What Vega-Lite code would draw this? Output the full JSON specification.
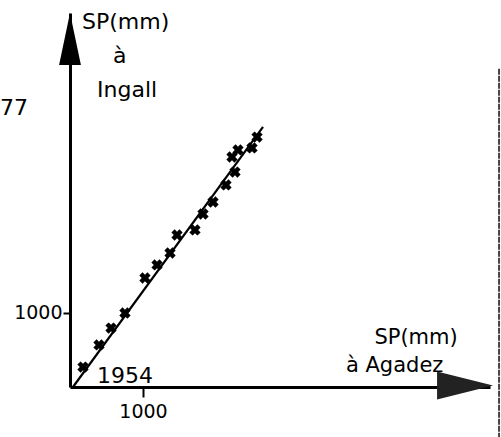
{
  "$schema": "https://vega.github.io/schema/vega-lite/v6.json",
  "width": 420,
  "height": 374,
  "autosize": {"type": "none"},
  "padding": {"left": 70, "top": 13, "right": 11, "bottom": 50},
  "background": "white",
  "config": {
    "view": {"stroke": null},
    "axis": {"grid": false, "domainColor": "black", "domainWidth": 3, "tickColor": "black", "tickWidth": 2, "labelColor": "black", "labelFont": "DejaVu Sans", "labelFontSize": 19, "title": null}
  },
  "datasets": {
    "pts": [
      {"agadez": 178, "ingall": 270},
      {"agadez": 397, "ingall": 568},
      {"agadez": 562, "ingall": 797},
      {"agadez": 753, "ingall": 1000},
      {"agadez": 1027, "ingall": 1473},
      {"agadez": 1192, "ingall": 1649},
      {"agadez": 1370, "ingall": 1811},
      {"agadez": 1466, "ingall": 2054},
      {"agadez": 1712, "ingall": 2122},
      {"agadez": 1822, "ingall": 2338},
      {"agadez": 1959, "ingall": 2500},
      {"agadez": 2137, "ingall": 2730},
      {"agadez": 2260, "ingall": 2905},
      {"agadez": 2219, "ingall": 3108},
      {"agadez": 2301, "ingall": 3203},
      {"agadez": 2493, "ingall": 3230},
      {"agadez": 2562, "ingall": 3378}
    ],
    "fit": [
      {"agadez": 41, "ingall": 0},
      {"agadez": 2644, "ingall": 3514}
    ],
    "edge": [
      {"agadez": 5877, "ingall": 4300, "ingall2": -676}
    ],
    "labels": [
      {"agadez": 164, "ingall": 4932, "t": "SP(mm)"},
      {"agadez": 589, "ingall": 4473, "t": "à"},
      {"agadez": 370, "ingall": 4014, "t": "Ingall"},
      {"agadez": -959, "ingall": 3770, "t": "77"},
      {"agadez": 370, "ingall": 149, "t": "1954"}
    ],
    "xlabels": [
      {"agadez": 4170, "ingall": 663, "t": "SP(mm)"},
      {"agadez": 3780, "ingall": 284, "t": "à Agadez"}
    ]
  },
  "layer": [
    {
      "data": {"name": "fit"},
      "mark": {"type": "line", "color": "black", "strokeWidth": 2.2},
      "encoding": {
        "x": {"field": "agadez", "type": "quantitative", "scale": {"domain": [0, 5753], "nice": false, "zero": false},
              "axis": {"values": [1000], "format": "d", "tickSize": 10, "labelDx": 13, "labelPadding": 5}},
        "y": {"field": "ingall", "type": "quantitative", "scale": {"domain": [0, 5054], "nice": false, "zero": false},
              "axis": {"values": [1000], "format": "d", "tickSize": 7, "labelPadding": 1, "labelDy": -8}}
      }
    },
    {
      "data": {"name": "edge"},
      "mark": {"type": "rule", "color": "#444", "strokeWidth": 2, "strokeDash": [6, 1]},
      "encoding": {
        "x": {"field": "agadez", "type": "quantitative"},
        "y": {"field": "ingall", "type": "quantitative"},
        "y2": {"field": "ingall2"}
      }
    },
    {
      "data": {"name": "pts"},
      "mark": {"type": "point", "shape": "cross", "angle": 45, "filled": true, "color": "black", "size": 130, "opacity": 1},
      "encoding": {
        "x": {"field": "agadez", "type": "quantitative"},
        "y": {"field": "ingall", "type": "quantitative"}
      }
    },
    {
      "data": {"values": [{"agadez": 0, "ingall": 4703}]},
      "mark": {"type": "point", "shape": "M -0.42 1 L 0 -1 L 0.42 1 Z", "filled": true, "color": "black", "size": 2704, "opacity": 1},
      "encoding": {
        "x": {"field": "agadez", "type": "quantitative"},
        "y": {"field": "ingall", "type": "quantitative"}
      }
    },
    {
      "data": {"values": [{"agadez": 5411, "ingall": 20}]},
      "mark": {"type": "point", "shape": "M -1 -0.5 L 1 0 L -1 0.5 Z", "filled": true, "color": "#222", "size": 3136, "opacity": 1},
      "encoding": {
        "x": {"field": "agadez", "type": "quantitative"},
        "y": {"field": "ingall", "type": "quantitative"}
      }
    },
    {
      "data": {"name": "labels"},
      "mark": {"type": "text", "align": "left", "baseline": "middle", "font": "DejaVu Sans", "fontSize": 22, "color": "black"},
      "encoding": {
        "x": {"field": "agadez", "type": "quantitative"},
        "y": {"field": "ingall", "type": "quantitative"},
        "text": {"field": "t"}
      }
    },
    {
      "data": {"name": "xlabels"},
      "mark": {"type": "text", "align": "left", "baseline": "middle", "font": "DejaVu Sans", "fontSize": 21, "color": "black"},
      "encoding": {
        "x": {"field": "agadez", "type": "quantitative"},
        "y": {"field": "ingall", "type": "quantitative"},
        "text": {"field": "t"}
      }
    }
  ]
}
